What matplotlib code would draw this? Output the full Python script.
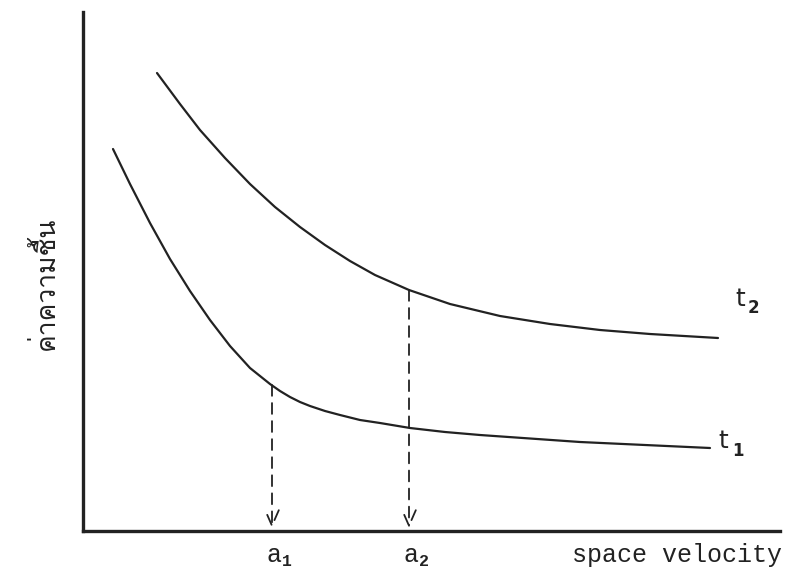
import matplotlib
matplotlib.use("Agg")
import matplotlib.pyplot as plt
from matplotlib import font_manager
from matplotlib.ft2font import FT2Font

# curve t1 (lower) and t2 (upper)
t1_x = [3.0, 4.7, 6.7, 8.7, 10.7, 12.7, 14.7, 16.7, 17.7, 18.7, 19.7, 20.7, 21.7, 22.7,
        24.2, 25.7, 27.7, 29.7, 32.7, 36.2, 39.7, 49.7, 62.7]
t1_y = [38.2, 34.7, 30.8, 27.2, 24.0, 21.1, 18.5, 16.3, 15.5, 14.7, 14.0, 13.4, 12.9, 12.5,
        12.0, 11.6, 11.1, 10.8, 10.3, 9.9, 9.6, 8.9, 8.3]

t2_x = [7.4, 9.7, 11.7, 14.2, 16.7, 19.2, 21.7, 24.2, 26.7, 29.2, 32.6, 36.7, 41.7, 46.7, 51.7, 56.7, 63.5]
t2_y = [45.8, 42.7, 40.1, 37.3, 34.7, 32.4, 30.4, 28.6, 27.0, 25.6, 24.1, 22.7, 21.5, 20.7, 20.1, 19.7, 19.3]

# projection points a1, a2
a_x = [18.9, 32.6]
a_y = [14.6, 24.1]
a_labels = ["1", "2"]

y_label = "ค่าความชื้น"
x_label = "space velocity"


def find_thai_font():
    for f in font_manager.fontManager.ttflist:
        try:
            cmap = FT2Font(f.fname).get_charmap()
        except Exception:
            continue
        if ord("ค") in cmap and ord("ื") in cmap:
            return f.name
    return "DejaVu Sans"


thai_font = find_thai_font()
mono = "Liberation Mono"
ink = "#222222"

fig = plt.figure(figsize=(8.1, 5.83), dpi=100)
ax = fig.add_axes([83 / 810, 52 / 583, 697 / 810, 519 / 583])
ax.set_xlim(0, 69.7)
ax.set_ylim(0, 51.9)

for side in ["top", "right"]:
    ax.spines[side].set_visible(False)
for side in ["left", "bottom"]:
    ax.spines[side].set_linewidth(2.4)
    ax.spines[side].set_color(ink)
ax.set_xticks([])
ax.set_yticks([])

ax.plot(t1_x, t1_y, color=ink, lw=1.6, solid_capstyle="round", solid_joinstyle="round")
ax.plot(t2_x, t2_y, color=ink, lw=1.6, solid_capstyle="round", solid_joinstyle="round")

for x, y, lab in zip(a_x, a_y, a_labels):
    ax.annotate("", xy=(x, 0.3), xytext=(x, y),
                arrowprops=dict(arrowstyle="->,head_length=0.8,head_width=0.35",
                                color=ink, lw=1.3, linestyle=(0, (6, 4)),
                                shrinkA=0, shrinkB=0, mutation_scale=14))
    ax.text(x + 0.2, -2.4, "a", fontfamily=mono, fontsize=18,
            ha="center", va="center", color=ink, clip_on=False)
    ax.text(x + 1.5, -3.0, lab, fontfamily=mono, fontsize=12, fontweight="bold",
            ha="center", va="center", color=ink, clip_on=False)

ax.text(69.9, -2.4, x_label, fontfamily=mono, fontsize=18,
        ha="right", va="center", color=ink, clip_on=False)

ax.text(65.7, 23.2, "t", fontfamily="DejaVu Sans", fontsize=18,
        ha="center", va="center", color=ink)
ax.text(67.0, 22.3, "2", fontfamily="DejaVu Sans", fontsize=12, fontweight="bold",
        ha="center", va="center", color=ink)
ax.text(64.0, 9.0, "t", fontfamily="DejaVu Sans", fontsize=18,
        ha="center", va="center", color=ink)
ax.text(65.5, 8.0, "1", fontfamily="DejaVu Sans", fontsize=12, fontweight="bold",
        ha="center", va="center", color=ink)

fig.text(45 / 810, 1 - 283 / 583, y_label, fontfamily=[thai_font, "DejaVu Sans"],
         fontsize=19, rotation=90, ha="center", va="center", color=ink)

fig.savefig("out.png", dpi=100)
